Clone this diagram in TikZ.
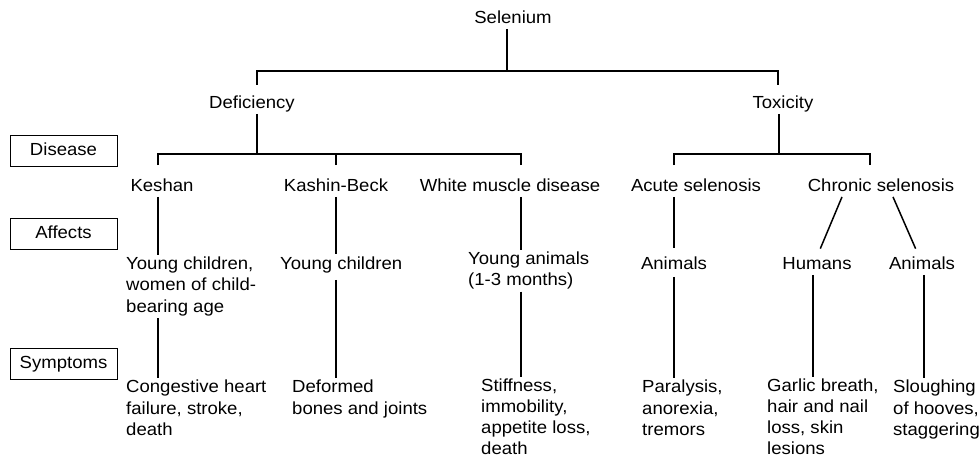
\documentclass[tikz,border=0pt]{standalone}
\usepackage{fontspec}
\setmainfont{Liberation Sans}[FakeStretch=1.06]

\begin{document}
\begin{tikzpicture}[x=1pt, y=-1pt,
  every node/.style={font=\fontsize{17.5}{21.5}\selectfont, inner sep=2pt},
  lbl/.style={anchor=base, text height=12.7pt, text depth=3.7pt},
  lblw/.style={anchor=base west, text height=12.7pt, text depth=3.7pt},
  para/.style={anchor=north west, align=left},
  tight/.style={font=\fontsize{17.5}{20.8}\selectfont},
  tag/.style={draw, line width=0.8pt, minimum width=107pt, minimum height=31pt,
              text height=12.7pt, text depth=3.7pt},
  tree/.style={line width=1.5pt}]

\useasboundingbox (0,0) rectangle (980,459);

% columns of the connectors
\coordinate (cDef) at (257,0);
\coordinate (cTox) at (778,0);
\coordinate (cKes) at (158,0);
\coordinate (cKas) at (336,0);
\coordinate (cWmd) at (521,0);
\coordinate (cAcu) at (674,0);
\coordinate (cChr) at (870,0);
\coordinate (cChl) at (842,0);
\coordinate (cChr2) at (893,0);
\coordinate (cHum) at (813,0);
\coordinate (cAni) at (924,0);

% -------- row labels -----------
\node[tag]  (tdis)  at  (63.5, 151)   {Disease};
\node[tag]  (taff)  at  (63.5, 233.5) {Affects};
\node[tag]  (tsym)  at  (63.5, 364)   {Symptoms};

% -------- top of the tree -----------
\node[lbl]  (sel)  at  (513, 23)  {Selenium};
\node[lbl]  (def)  at  (252, 108) {Deficiency};
\node[lbl]  (tox)  at  (783, 108) {Toxicity};

% Disease row
\node[lbl]  (kes)  at  (162, 191) {Keshan};
\node[lbl]  (kas)  at  (336, 191) {Kashin-Beck};
\node[lbl]  (wmd)  at  (510, 191) {White muscle disease};
\node[lbl]  (acu)  at  (696, 191) {Acute selenosis};
\node[lbl]  (chr)  at  (881, 191) {Chronic selenosis};

% Affects row
\node[para]  (kesaff)  at  (124, 254.5) {Young children,\\women of child-\\bearing age};
\node[lblw]  (kasaff)  at  (278, 269)   {Young children};
\node[para]  (wmdaff)  at  (466, 249.5) {Young animals\\(1-3 months)};
\node[lbl]   (acuaff)  at  (674, 269)   {Animals};
\node[lbl]   (humaff)  at  (817, 269)   {Humans};
\node[lbl]   (aniaff)  at  (922, 269)   {Animals};

% Symptoms row
\node[para]  (kessym)  at  (124, 378) {Congestive heart\\failure, stroke,\\death};
\node[para]  (kassym)  at  (290, 378) {Deformed\\bones and joints};
\node[para, tight]  (wmdsym)  at  (479, 377) {Stiffness,\\immobility,\\appetite loss,\\death};
\node[para]  (acusym)  at  (640, 378) {Paralysis,\\anorexia,\\tremors};
\node[para, tight]  (humsym)  at  (765, 377) {Garlic breath,\\hair and nail\\loss, skin\\lesions};
\node[para]  (anisym)  at  (891, 378) {Sloughing\\of hooves,\\staggering};

% -------- connectors -----------
\coordinate (jSel) at (507, 71);
\draw[tree] (sel.south -| jSel) -- (jSel);
\draw[tree, shorten <=8.5pt] (def.north -| cDef) |- (jSel);
\draw[tree, shorten <=8.5pt] (tox.north -| cTox) |- (jSel);

% deficiency branch
\coordinate (jDef) at (257, 154);
\draw[tree] (def.south -| jDef) -- (jDef);
\draw[tree, shorten <=11pt] (kes.north -| cKes) |- (jDef);
\draw[tree, shorten <=11pt] (kas.north -| cKas) |- (jDef);
\draw[tree, shorten <=11pt] (wmd.north -| cWmd) |- (jDef);

% toxicity branch
\coordinate (jTox) at (779, 154);
\draw[tree] (tox.south -| jTox) -- (jTox);
\draw[tree, shorten <=11pt] (acu.north -| cAcu) |- (jTox);
\draw[tree, shorten <=11pt] (chr.north -| cChr) |- (jTox);

% Disease to Affects
\draw[tree] (kes.south -| cKes) -- (kesaff.north -| cKes);
\draw[tree] (kas.south -| cKas) -- (kasaff.north -| cKas);
\draw[tree] (wmd.south -| cWmd) -- (wmdaff.north -| cWmd);
\draw[tree, shorten >=6pt] (acu.south -| cAcu) -- (acuaff.north -| cAcu);
\draw[tree, shorten >=6pt] (chr.south -| cChl) -- (humaff.north -| 818,0);
\draw[tree, shorten >=6pt] (chr.south -| cChr2) -- (aniaff.north -| 918,0);

% Affects to Symptoms
\draw[tree] (kesaff.south -| cKes) -- (kessym.north -| cKes);
\draw[tree, shorten <=5pt] (kasaff.south -| cKas) -- (kassym.north -| cKas);
\draw[tree] (wmdaff.south -| cWmd) -- (wmdsym.north -| cWmd);
\draw[tree, shorten <=2pt] (acuaff.south -| cAcu) -- (acusym.north -| cAcu);
\draw[tree] (humaff.south -| cHum) -- (humsym.north -| cHum);
\draw[tree] (aniaff.south -| cAni) -- (anisym.north -| cAni);

\end{tikzpicture}
\end{document}
